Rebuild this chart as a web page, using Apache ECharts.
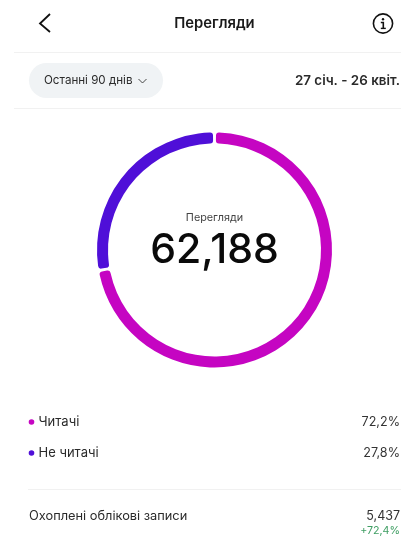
<!DOCTYPE html>
<html>
<head>
<meta charset="utf-8">
<style>html,body{margin:0;padding:0;background:#fff}#c{width:401px;height:555px}</style>
<script src="https://cdn.jsdelivr.net/npm/echarts@6/dist/echarts.min.js"></script>
</head>
<body>
<div id="c"></div>
<script>
// Views split between followers and non-followers
const categories = ['Читачі', 'Не читачі'];
const shares = [72.2, 27.8];
const shareLabels = ['72,2%', '27,8%'];
const colors = ['#c505c2', '#4f0fd8'];
const totalViews = '62,188';
const heading = 'Перегляди';
const periodLabel = 'Останні 90 днів';
const dateRange = '27 січ. - 26 квіт.';
const reachLabel = 'Охоплені облікові записи';
const reachValue = '5,437';
const reachDelta = '+72,4%';

const FONT = 'Inter, "Noto Sans", sans-serif';
const txt = (x, y, text, size, fill, align, weight) => ({
  type: 'text', x, y,
  style: { text, fontSize: size, fill, align: align || 'left', verticalAlign: 'middle',
           fontFamily: FONT, fontWeight: weight || 400 }
});
const rule = (x1, y, x2) => ({
  type: 'line', shape: { x1, y1: y, x2, y2: y }, style: { stroke: '#f1f1f1', lineWidth: 1 }
});
const dot = (y, fill) => ({ type: 'circle', shape: { cx: 31.5, cy: y, r: 2.8 }, style: { fill } });

const rowY = [422, 453];
const chrome = [
  // header
  { type: 'polyline', shape: { points: [[50, 14], [40, 23.5], [50, 32]] },
    style: { stroke: '#111', lineWidth: 1.8, fill: null } },
  txt(214.5, 24, heading, 14.8, '#1a1a1a', 'center', 600),
  { type: 'circle', shape: { cx: 383, cy: 23.5, r: 9.6 },
    style: { stroke: '#111', lineWidth: 1.6, fill: '#fff' } },
  { type: 'circle', shape: { cx: 383, cy: 19.3, r: 1.2 }, style: { fill: '#111' } },
  { type: 'polyline', shape: { points: [[380.8, 22.5], [383.3, 22.5], [383.3, 28.2]] },
    style: { stroke: '#111', lineWidth: 1.6, fill: null } },
  { type: 'line', shape: { x1: 380.8, y1: 28.4, x2: 385.8, y2: 28.4 },
    style: { stroke: '#111', lineWidth: 1.4 } },
  rule(14, 52.5, 401),
  // period selector
  { type: 'rect', shape: { x: 29, y: 63, width: 134, height: 35, r: 17.5 }, style: { fill: '#f0f3f5' } },
  txt(44, 81, periodLabel, 11.6, '#2b2b2b'),
  { type: 'polyline', shape: { points: [[138.5, 79], [142.5, 83], [146.5, 79]] },
    style: { stroke: '#333', lineWidth: 0.9, fill: null } },
  txt(400, 81, dateRange, 13.4, '#2a2a2a', 'right', 600),
  rule(14, 108.5, 401),
  // centre of the ring
  txt(214.5, 218, heading, 10.8, '#444', 'center'),
  txt(214.5, 251, totalViews, 41, '#0a0a0a', 'center', 500),
  // breakdown rows
  dot(rowY[0], colors[0]),
  txt(38.5, rowY[0] + 0.5, categories[0], 13, '#2a2a2a'),
  txt(400, rowY[0] + 0.5, shareLabels[0], 12.6, '#333', 'right'),
  dot(rowY[1], colors[1]),
  txt(38.5, rowY[1] + 0.5, categories[1], 13, '#2a2a2a'),
  txt(400, rowY[1] + 0.5, shareLabels[1], 12.6, '#333', 'right'),
  rule(28, 489.5, 401),
  txt(29, 516, reachLabel, 12.8, '#2a2a2a'),
  txt(400, 516, reachValue, 12.5, '#333', 'right'),
  txt(400, 531, reachDelta, 10.7, '#3f9e63', 'right')
];

const chart = echarts.init(document.getElementById('c'), null, { renderer: 'canvas' });
chart.setOption({
  animation: false,
  backgroundColor: '#fff',
  color: colors,
  graphic: { elements: chrome },
  series: [{
    type: 'pie',
    center: [214.5, 250],
    radius: [106.5, 117.5],
    startAngle: 90,
    clockwise: true,
    padAngle: 1.5,
    silent: true,
    label: { show: false },
    labelLine: { show: false },
    itemStyle: { borderRadius: 3 },
    data: categories.map((name, i) => ({ name, value: shares[i] }))
  }]
});
</script>
</body>
</html>
